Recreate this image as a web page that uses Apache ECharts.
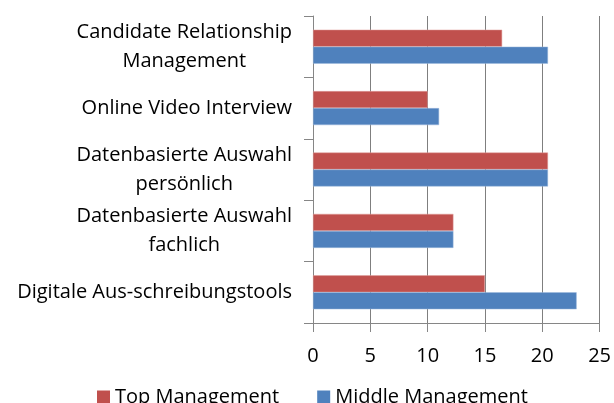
<!DOCTYPE html>
<html><head><meta charset="utf-8">
<script src="https://cdn.jsdelivr.net/npm/echarts@6/dist/echarts.min.js"></script>
<style>html,body{margin:0;padding:0;background:#fff}#c{width:614px;height:403px}</style>
</head><body><div id="c"></div>
<script>
const categories = ["Digitale Aus-schreibungstools", "Datenbasierte Auswahl\nfachlich", "Datenbasierte Auswahl\npersönlich", "Online Video Interview", "Candidate Relationship\nManagement"];
const topManagement = [15, 12.25, 20.5, 10, 16.5];
const middleManagement = [23, 12.25, 20.5, 11, 20.5];
const xTicks = [0, 5, 10, 15, 20, 25];

const FONT = "Open Sans";
const chart = echarts.init(document.getElementById('c'), null, {renderer: 'canvas'});
chart.setOption({
  animation: false,
  textStyle: {fontFamily: FONT},
  grid: {left: 313, right: 12, top: 16, bottom: 80, containLabel: false},
  legend: {
    data: ["Top Management", "Middle Management"],
    left: 97, top: 387, itemWidth: 13, itemHeight: 13, itemGap: 38,
    icon: 'rect',
    itemStyle: {borderWidth: 0},
    textStyle: {fontFamily: FONT, fontSize: 20, color: '#000'},
    padding: 0
  },
  xAxis: {
    type: 'value', min: xTicks[0], max: xTicks[xTicks.length-1], interval: 5,
    axisLine: {show: true, lineStyle: {color: '#868686', width: 1}},
    axisTick: {show: true, length: 9, lineStyle: {color: '#868686'}},
    splitLine: {show: true, lineStyle: {color: '#7f7f7f', width: 1}},
    axisLabel: {fontFamily: FONT, fontSize: 20, color: '#000', margin: 23}
  },
  yAxis: {
    type: 'category', data: categories,
    axisLine: {show: true, lineStyle: {color: '#868686', width: 1}},
    axisTick: {show: true, length: 9, lineStyle: {color: '#868686'}},
    axisLabel: {
      fontFamily: FONT, fontSize: 20, color: '#000', margin: 21, align: 'right', lineHeight: 29,
      formatter: function (v) { return v.split('\n').map(function (s) { return '{c|' + s + '}'; }).join('\n'); },
      rich: {c: {align: 'center', fontFamily: FONT, fontSize: 20, color: '#000', lineHeight: 29}}
    }
  },
  series: [
    {name: "Top Management", type: 'bar', data: topManagement, barWidth: 17, barGap: '0%', barCategoryGap: '45%',
     itemStyle: {color: '#C0504D', borderColor: '#E0A09E', borderWidth: 0.5}},
    {name: "Middle Management", type: 'bar', data: middleManagement, barWidth: 17, barGap: '0%', barCategoryGap: '45%',
     itemStyle: {color: '#4F81BD', borderColor: '#9DB9DC', borderWidth: 0.5}}
  ]
});
</script></body></html>
